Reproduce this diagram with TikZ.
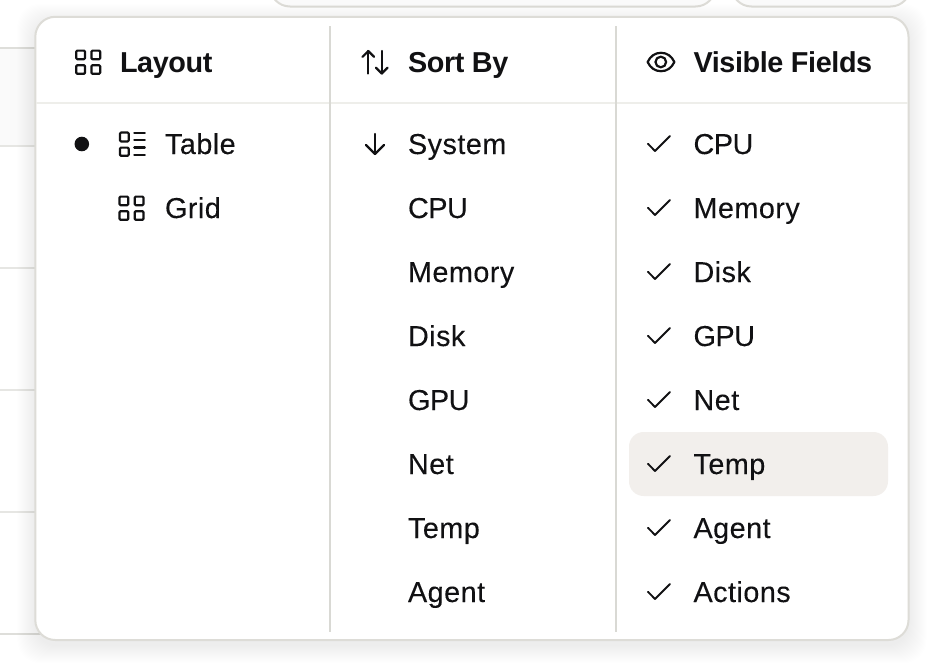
\documentclass[tikz,border=0pt]{standalone}
\usepackage{fontspec}
\setmainfont{Liberation Sans}
\newfontfamily\itemfont[LetterSpace=1.6,FakeBold=0.12]{Liberation Sans}
\newfontfamily\capsfont[LetterSpace=-1.7,FakeBold=0.12]{Liberation Sans}
\newfontfamily\headfont[LetterSpace=-1.4]{Liberation Sans Bold}
\begin{document}
\begin{tikzpicture}[x=0.75pt,y=-0.75pt,
  item/.style={anchor=base west,inner sep=0pt,outer sep=0pt,text=ink,font=\fontsize{21.6}{24}\selectfont\itemfont},
  capsitem/.style={item,font=\fontsize{21.6}{24}\selectfont\capsfont},
  head/.style={anchor=base west,inner sep=0pt,outer sep=0pt,text=ink,font=\fontsize{21.6}{24}\selectfont\headfont},
  icon/.style={draw=ink,line width=1.65pt,line cap=round,line join=round},
  thin icon/.style={draw=ink,line width=1.4pt,line cap=round,line join=round},
  rule/.style={draw=sepcol,line width=1.5pt},
  bgline/.style={draw=bgl,line width=1.5pt}]
\definecolor{ink}{HTML}{111113}
\definecolor{sepcol}{HTML}{D9D9D4}
\definecolor{hl}{HTML}{EEEEEA}
\definecolor{bgl}{HTML}{E6E6E3}
\definecolor{bgd}{HTML}{DEDEDA}
\definecolor{edge}{HTML}{DDDCD7}
\definecolor{hover}{HTML}{F2EFEC}
\definecolor{tint}{HTML}{FAFAFA}
\useasboundingbox (0,0) rectangle (952,668);
\fill[white] (0,0) rectangle (952,668);
% page behind the menu
\fill[tint] (0,48) rectangle (40,146);
\draw[bgd] [line width=1.5pt] (0,48) -- (40,48);
\draw[bgline] (0,146) -- (40,146);
\draw[bgline] (0,268) -- (40,268);
\draw[bgline] (0,390) -- (40,390);
\draw[bgline] (0,512) -- (40,512);
\draw[bgd] [line width=1.5pt] (0,634) -- (50,634);
\filldraw[fill=tint,draw=edge,line width=1.5pt,rounded corners=15pt] (270,-40) rectangle (715.5,6.5);
\filldraw[fill=tint,draw=edge,line width=1.5pt,rounded corners=15pt] (731.5,-40) rectangle (910.5,6.5);
% shadow
\foreach \g in {1,...,18}
  \fill[black,opacity=.0055,rounded corners=17pt] (35.3-\g,16.8+5-\g) rectangle (908.5+\g,640+5+\g);
% panel
\filldraw[fill=white,draw=edge,line width=1.5pt,rounded corners=15pt] (35.3,16.8) rectangle (908.5,640);
\draw[hl,line width=1.5pt] (36.2,103) -- (907.6,103);
\coordinate (s1t) at (329.7,26); \coordinate (s1b) at (329.7,632);
\coordinate (s2t) at (616,26); \coordinate (s2b) at (616,632);
\draw[rule] (s1t) -- (s1b);
\draw[rule] (s2t) -- (s2b);
% hover row
\fill[hover,rounded corners=11pt] (629,432) rectangle (888,496);
% headers
\node[head] (hLayout) at (120,72) {Layout};
\node[head] (hSort) at (408,72) {Sort By};
\node[head] (hFields) at (693.5,72) {Visible Fields};
% grid icons
\foreach \ox/\oy in {0/0,43.3/146}{
  \foreach \dx/\dy in {0/0,15.2/0,0/14.6,15.2/14.6}
    \draw[icon,rounded corners=0.8pt] (\ox+\dx+76.2,\oy+\dy+50.6) rectangle (\ox+\dx+85,\oy+\dy+59.2);
}
% table icon
\draw[icon,rounded corners=0.8pt] (120,132.5) rectangle (128.7,141.5);
\draw[icon,rounded corners=0.8pt] (120,147.6) rectangle (128.7,155.8);
\draw[icon] (134.3,133.3) -- (144.8,133.3);
\draw[icon] (134.3,140.2) -- (144.8,140.2);
\draw[icon] (134.3,147.4) -- (144.8,147.4);
\draw[icon] (134.3,154.7) -- (144.8,154.7);
\fill[ink] (81.8,144) circle (7.3);
% sort icons
\draw[icon] (368.3,73.5) -- (368.3,51); \draw[icon] (362.5,56.8) -- (368.3,51) -- (374.1,56.8);
\draw[icon] (381.7,51) -- (381.7,73.5); \draw[icon] (375.9,67.7) -- (381.7,73.5) -- (387.5,67.7);
\draw[icon] (375,134) -- (375,154); \draw[icon] (366,145) -- (375,154) -- (384,145);
% eye
\draw[icon] (647.6,62) .. controls (650.5,56) and (655,52.8) .. (661,52.8) .. controls (667,52.8) and (671.5,56) .. (674.4,62) .. controls (671.5,68) and (667,71.2) .. (661,71.2) .. controls (655,71.2) and (650.5,68) .. (647.6,62) -- cycle;
\node[circle,icon,minimum size=8pt,inner sep=0pt] (eyeball) at (660.8,62) {};
% items
\node[item] (lTable) at (165,154) {Table};
\node[item] (lGrid) at (165,218) {Grid};
\node[item] (sa) at (408,154) {System};
\node[capsitem] (sb) at (408,218) {CPU};
\node[item] (sc) at (408,282) {Memory};
\node[item] (sd) at (408,346) {Disk};
\node[capsitem] (se) at (408,410) {GPU};
\node[item] (sf) at (408,474) {Net};
\node[item] (sg) at (408,538) {Temp};
\node[item] (sh) at (408,602) {Agent};
\node[capsitem] (fa) at (693.5,154) {CPU};
\node[item] (fb) at (693.5,218) {Memory};
\node[item] (fc) at (693.5,282) {Disk};
\node[capsitem] (fd) at (693.5,346) {GPU};
\node[item] (fe) at (693.5,410) {Net};
\node[item] (ff) at (693.5,474) {Temp};
\node[item] (fg) at (693.5,538) {Agent};
\node[item] (fh) at (693.5,602) {Actions};
\foreach \y in {154,218,282,346,410,474,538,602}
  \draw[thin icon] (647.9,\y-10.3) -- (655,\y-3) -- (670,\y-18);
\end{tikzpicture}
\end{document}
